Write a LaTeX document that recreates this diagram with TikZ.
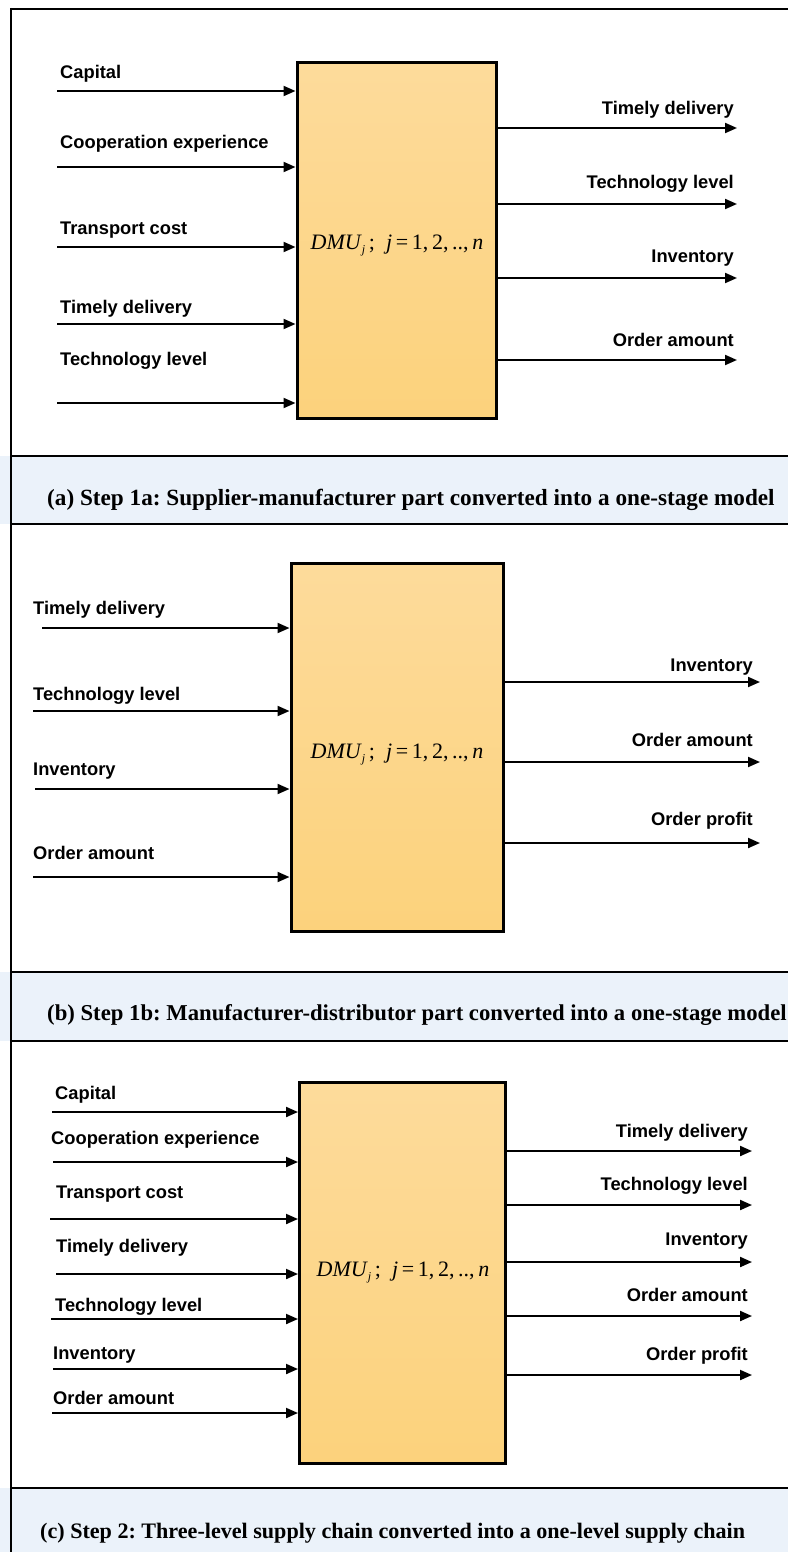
\documentclass[tikz,border=0pt]{standalone}
\usepackage{fontspec}
\setmainfont{Liberation Serif}
\setsansfont{Liberation Sans}
\usetikzlibrary{arrows.meta}
\definecolor{capband}{RGB}{235,242,250}
\definecolor{boxtop}{RGB}{253,219,155}
\definecolor{boxbot}{RGB}{252,210,124}
\newcommand{\dmutext}{\textit{DMU}\raisebox{-0.45ex}{\fontsize{12}{12}\selectfont\itshape j}\,;\enspace\textit{j}\,=\,1,\,2,\,..,\,\textit{n}}
\frenchspacing

\begin{document}
\begin{tikzpicture}[x=1pt,y=-1pt,
  dmubox/.style={draw=black,line width=3pt,top color=boxtop,bottom color=boxbot,inner sep=0pt},
  flow/.style={line width=2pt,-{Triangle[length=12pt,width=10pt]}},
  lbl/.style={font=\sffamily\bfseries\fontsize{18.3}{20}\selectfont,inner sep=0pt},
  dmu/.style={font=\fontsize{22}{24}\selectfont,inner sep=0pt,anchor=base},
  capt/.style={font=\bfseries,inner sep=0pt,anchor=base west},
  rule/.style={line width=2.5pt}]
\useasboundingbox (0,0) rectangle (788,1552);

% caption bands
\fill[capband] (0,456) rectangle (788,524);
\fill[capband] (0,972) rectangle (788,1041);
\fill[capband] (0,1488) rectangle (788,1552);

% frame rules
\draw[rule] (11,8) -- (11,1552);
\draw[rule] (10,9) -- (788,9);
\draw[rule] (10,456) -- (788,456);
\draw[rule] (10,524) -- (788,524);
\draw[rule] (10,972) -- (788,972);
\draw[rule] (10,1041) -- (788,1041);
\draw[rule] (10,1488) -- (788,1488);

% ---------- (a) supplier-manufacturer ----------
\node[dmubox,minimum width=199pt,minimum height=355pt] (boxa) at (396.5,240.5) {};
\node[dmu] (dmua) at (397,249) {\dmutext};
\foreach \n/\ly/\ay/\t in {1/79/91/Capital,2/148/167/Cooperation experience,3/234/247/Transport cost,4/313/324/Timely delivery,5/365/403/Technology level}{
  \node[lbl,anchor=base west] (lai\n) at (60,\ly) {\t};
  \coordinate (sai\n) at (57,\ay);
  \draw[flow] (sai\n) -- (sai\n -| boxa.west);
}
\foreach \n/\ly/\ay/\t in {1/114/128/Timely delivery,2/188/204/Technology level,3/262/278/Inventory,4/346/360/Order amount}{
  \node[lbl,anchor=base east] (lao\n) at (734,\ly) {\t};
  \coordinate (eao\n) at (737,\ay);
  \draw[flow] (eao\n -| boxa.east) -- (eao\n);
}
\node[capt,font=\bfseries\fontsize{23.2}{26}\selectfont] (capa) at (47,505) {(a) Step 1a: Supplier-manufacturer part converted into a one-stage model};

% ---------- (b) manufacturer-distributor ----------
\node[dmubox,minimum width=212pt,minimum height=368pt] (boxb) at (397,747) {};
\node[dmu] (dmub) at (397,758) {\dmutext};
\foreach \n/\ly/\ay/\sx/\t in {1/614/628/42/Timely delivery,2/700/711/33/Technology level,3/775/789/35/Inventory,4/859/877/33/Order amount}{
  \node[lbl,anchor=base west] (lbi\n) at (33,\ly) {\t};
  \coordinate (sbi\n) at (\sx,\ay);
  \draw[flow] (sbi\n) -- (sbi\n -| boxb.west);
}
\foreach \n/\ly/\ay/\t in {1/671/682/Inventory,2/746/762/Order amount,3/825/843/Order profit}{
  \node[lbl,anchor=base east] (lbo\n) at (753,\ly) {\t};
  \coordinate (ebo\n) at (760,\ay);
  \draw[flow] (ebo\n -| boxb.east) -- (ebo\n);
}
\node[capt,font=\bfseries\fontsize{22.7}{26}\selectfont] (capb) at (47,1020) {(b) Step 1b: Manufacturer-distributor part converted into a one-stage model};

% ---------- (c) whole chain ----------
\node[dmubox,minimum width=206pt,minimum height=381pt] (boxc) at (402.5,1273) {};
\node[dmu] (dmuc) at (403,1276) {\dmutext};
\foreach \n/\lx/\ly/\ay/\sx/\t in {1/55/1099/1112/52/Capital,2/51/1144/1162/53/Cooperation experience,3/56/1198/1219/50/Transport cost,4/56/1252/1274/56/Timely delivery,5/55/1311/1319/51/Technology level,6/53/1359/1369/53/Inventory,7/53/1404/1413/52/Order amount}{
  \node[lbl,anchor=base west] (lci\n) at (\lx,\ly) {\t};
  \coordinate (sci\n) at (\sx,\ay);
  \draw[flow] (sci\n) -- (sci\n -| boxc.west);
}
\foreach \n/\ly/\ay/\t in {1/1137/1151/Timely delivery,2/1190/1205/Technology level,3/1245/1262/Inventory,4/1301/1316/Order amount,5/1360/1375/Order profit}{
  \node[lbl,anchor=base east] (lco\n) at (748,\ly) {\t};
  \coordinate (eco\n) at (752,\ay);
  \draw[flow] (eco\n -| boxc.east) -- (eco\n);
}
\node[capt,font=\bfseries\fontsize{22.1}{26}\selectfont] (capc) at (40,1538) {(c) Step 2: Three-level supply chain converted into a one-level supply chain};
\end{tikzpicture}
\end{document}
